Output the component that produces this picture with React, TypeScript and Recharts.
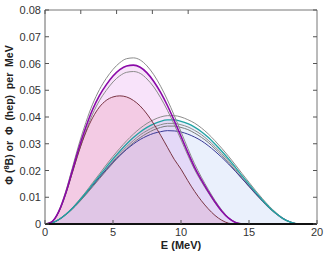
import React from "react";
import { ComposedChart, Line, Area, XAxis, YAxis } from "recharts";

const energies = [0, 0.5, 1, 1.5, 2, 2.5, 3, 3.5, 4, 4.5, 5, 5.5, 6, 6.5, 7, 7.5, 8, 8.5, 9, 9.5, 10, 10.5, 11, 11.5, 12, 12.5, 13, 13.5, 14, 14.5, 15, 15.5, 16, 16.5, 17, 17.5, 18, 18.5, 18.8];

const b8Upper = [0, 0.0009, 0.0048, 0.0118, 0.0208, 0.0299, 0.0379, 0.0448, 0.0502, 0.0544, 0.0578, 0.0603, 0.0618, 0.0621, 0.0613, 0.0591, 0.0558, 0.0515, 0.0464, 0.0406, 0.0345, 0.0283, 0.0225, 0.0175, 0.013, 0.0088, 0.0052, 0.0024, 0.0007, 0];
const b8Central = [0, 0.0008, 0.0045, 0.0112, 0.0198, 0.0285, 0.0362, 0.0428, 0.048, 0.052, 0.0553, 0.0577, 0.0591, 0.0594, 0.0586, 0.0565, 0.0533, 0.0492, 0.0443, 0.0387, 0.0328, 0.0268, 0.0212, 0.0165, 0.0122, 0.0082, 0.0048, 0.0022, 0.0006, 0];
const b8Lower = [0, 0.0008, 0.0043, 0.0107, 0.019, 0.0273, 0.0347, 0.0411, 0.0461, 0.0499, 0.0531, 0.0554, 0.0567, 0.057, 0.0563, 0.0542, 0.0512, 0.0472, 0.0425, 0.0372, 0.0315, 0.0257, 0.0203, 0.0158, 0.0117, 0.0079, 0.0046, 0.0021, 0.0006, 0];
const b8Alt = [0, 0.0008, 0.0044, 0.011, 0.019, 0.0272, 0.0342, 0.0397, 0.0437, 0.0462, 0.0475, 0.0479, 0.0475, 0.0462, 0.0441, 0.0411, 0.0374, 0.0332, 0.0287, 0.0242, 0.0205, 0.0162, 0.0122, 0.0087, 0.0057, 0.0032, 0.0014, 0.0003, 0];

const hepUpper = [0, 0.0004, 0.0017, 0.0036, 0.006, 0.0089, 0.012, 0.0154, 0.0187, 0.0221, 0.0253, 0.0283, 0.0311, 0.0336, 0.0358, 0.0376, 0.039, 0.04, 0.0405, 0.0405, 0.04, 0.039, 0.0377, 0.0359, 0.0337, 0.0311, 0.0283, 0.0253, 0.0221, 0.0188, 0.0156, 0.0124, 0.0094, 0.0066, 0.0042, 0.0022, 0.0009, 0.0001, 0];
const hepTeal = [0, 0.0004, 0.0016, 0.0035, 0.0058, 0.0086, 0.0116, 0.0148, 0.018, 0.0212, 0.0243, 0.0272, 0.0299, 0.0323, 0.0344, 0.0361, 0.0374, 0.0384, 0.0389, 0.0389, 0.0384, 0.0375, 0.0362, 0.0345, 0.0324, 0.0299, 0.0272, 0.0243, 0.0212, 0.018, 0.0149, 0.0118, 0.0089, 0.0062, 0.0039, 0.002, 0.0008, 0.0001, 0];
const hepMid = [0, 0.0004, 0.0015, 0.0034, 0.0056, 0.0083, 0.0112, 0.0143, 0.0174, 0.0205, 0.0235, 0.0263, 0.0289, 0.0312, 0.0333, 0.0349, 0.0362, 0.0371, 0.0376, 0.0376, 0.0371, 0.0363, 0.035, 0.0334, 0.0313, 0.0289, 0.0263, 0.0235, 0.0205, 0.0174, 0.0144, 0.0114, 0.0086, 0.006, 0.0038, 0.0019, 0.0008, 0.0001, 0];
const hepLower = [0, 0.0004, 0.0015, 0.0033, 0.0055, 0.0081, 0.0109, 0.0139, 0.0169, 0.0199, 0.0228, 0.0256, 0.0281, 0.0304, 0.0323, 0.0339, 0.0352, 0.0361, 0.0366, 0.0366, 0.0361, 0.0353, 0.034, 0.0324, 0.0305, 0.0281, 0.0256, 0.0228, 0.0199, 0.0169, 0.014, 0.0111, 0.0084, 0.0058, 0.0037, 0.0019, 0.0008, 0.0001, 0];
const hepBlue = [0, 0.0004, 0.0016, 0.0035, 0.0058, 0.0085, 0.0114, 0.0144, 0.0174, 0.0203, 0.0231, 0.0256, 0.0279, 0.0299, 0.0316, 0.0329, 0.0339, 0.0345, 0.0349, 0.0348, 0.0344, 0.0336, 0.0325, 0.0311, 0.0293, 0.0272, 0.0249, 0.0224, 0.0197, 0.0169, 0.0141, 0.0113, 0.0086, 0.0061, 0.0039, 0.0021, 0.0008, 0.0001, 0];

const xTicks = [0, 5, 10, 15, 20];
const yTicks = [0, 0.01, 0.02, 0.03, 0.04, 0.05, 0.06, 0.07, 0.08];
const xTitle = "E (MeV)";

const rows = energies.map((e, i) => ({
  e,
  b8Upper: b8Upper[i],
  b8Central: b8Central[i],
  b8Lower: b8Lower[i],
  b8Alt: b8Alt[i],
  hepUpper: hepUpper[i],
  hepTeal: hepTeal[i],
  hepMid: hepMid[i],
  hepLower: hepLower[i],
  hepBlue: hepBlue[i],
}));

const FONT = "'Liberation Sans', Arial, Helvetica, sans-serif";
const TICK_COLOR = "#555";

const fmtY = (v: number) => (v === 0 ? "0" : v.toFixed(2));

const BottomTick = (props: any) => {
  const { x, y, payload } = props;
  return (
    <g>
      <line x1={x} x2={x} y1={y} y2={y - 4} stroke={TICK_COLOR} strokeWidth={1} />
      <text x={x} y={y + 12} textAnchor="middle" fontFamily={FONT} fontSize={11} fill="#333">
        {payload.value}
      </text>
    </g>
  );
};

const LeftTick = (props: any) => {
  const { x, y, payload } = props;
  return (
    <g>
      <line x1={x + 4} x2={x + 8} y1={y} y2={y} stroke={TICK_COLOR} strokeWidth={1} />
      <text x={x} y={y + 4} textAnchor="end" fontFamily={FONT} fontSize={11} fill="#333">
        {fmtY(payload.value)}
      </text>
    </g>
  );
};

const TopTick = (props: any) => {
  const { x, y } = props;
  return <line x1={x} x2={x} y1={y} y2={y + 4} stroke={TICK_COLOR} strokeWidth={1} />;
};

const RightTick = (props: any) => {
  const { x, y } = props;
  return <line x1={x} x2={x - 4} y1={y} y2={y} stroke={TICK_COLOR} strokeWidth={1} />;
};

const XTitle = (props: any) => {
  const vb = props.viewBox || {};
  const cx = (vb.x ?? 45) + (vb.width ?? 272) / 2;
  return (
    <text x={cx} y={249} textAnchor="middle" fontFamily={FONT} fontSize={11} fontWeight="bold" fill="#222">
      {xTitle}
    </text>
  );
};

const YTitle = () => {
  return (
    <text
      transform="translate(13,115) rotate(-90)"
      textAnchor="middle"
      fontFamily={FONT}
      fontSize={10.5}
      fontWeight="bold"
      fill="#222"
      style={{ whiteSpace: "pre" }}
    >
      <tspan>Φ (</tspan>
      <tspan dy={-4} fontSize={7.5}>8</tspan>
      <tspan dy={4}>B) or  Φ  (hep)  per  MeV</tspan>
    </text>
  );
};

export default function App() {
  return (
    <div style={{ position: "absolute", left: 0, top: 0 }}>
      <style>{`body{margin:0}`}</style>
      <ComposedChart width={330} height={256} data={rows} margin={{ top: 0, right: 0, bottom: 0, left: 0 }}>
        <XAxis
          dataKey="e"
          type="number"
          domain={[0, 20]}
          ticks={xTicks}
          height={32}
          tickSize={0}
          tickMargin={0}
          tickLine={false}
          axisLine={{ stroke: "#111", strokeWidth: 2 }}
          tick={<BottomTick />}
          label={<XTitle />}
          allowDataOverflow
        />
        <XAxis
          xAxisId="top"
          orientation="top"
          type="number"
          domain={[0, 20]}
          ticks={xTicks}
          height={10}
          tickSize={0}
          tickMargin={0}
          tickLine={false}
          axisLine={{ stroke: "#777", strokeWidth: 1 }}
          tick={<TopTick />}
          allowDataOverflow
        />
        <YAxis
          type="number"
          domain={[0, 0.08]}
          ticks={yTicks}
          width={45}
          tickSize={0}
          tickMargin={4}
          tickLine={false}
          axisLine={{ stroke: "#666", strokeWidth: 1 }}
          tick={<LeftTick />}
          label={<YTitle />}
          allowDataOverflow
        />
        <YAxis
          yAxisId="right"
          orientation="right"
          type="number"
          domain={[0, 0.08]}
          ticks={yTicks}
          width={13}
          tickSize={0}
          tickMargin={0}
          tickLine={false}
          axisLine={{ stroke: "#777", strokeWidth: 1 }}
          tick={<RightTick />}
          allowDataOverflow
        />

        <Area dataKey="b8Central" type="monotone" stroke="none" fill="#f8e3fa" fillOpacity={1} isAnimationActive={false} dot={false} activeDot={false} />
        <Area dataKey="b8Alt" type="monotone" stroke="none" fill="#f3cbe4" fillOpacity={1} isAnimationActive={false} dot={false} activeDot={false} />
        <Area dataKey="hepTeal" type="monotone" stroke="none" fill="rgb(150,180,240)" fillOpacity={0.2} isAnimationActive={false} dot={false} activeDot={false} />

        <Line dataKey="hepUpper" type="monotone" stroke="#8c8c8c" strokeWidth={1} dot={false} activeDot={false} isAnimationActive={false} />
        <Line dataKey="hepMid" type="monotone" stroke="#8c8c8c" strokeWidth={1} dot={false} activeDot={false} isAnimationActive={false} />
        <Line dataKey="hepLower" type="monotone" stroke="#7a7a7a" strokeWidth={1} dot={false} activeDot={false} isAnimationActive={false} />
        <Line dataKey="hepBlue" type="monotone" stroke="#3a3a96" strokeWidth={1} dot={false} activeDot={false} isAnimationActive={false} />
        <Line dataKey="hepTeal" type="monotone" stroke="#21a3a3" strokeWidth={1.3} dot={false} activeDot={false} isAnimationActive={false} />

        <Line dataKey="b8Upper" type="monotone" stroke="#8c8c8c" strokeWidth={1} dot={false} activeDot={false} isAnimationActive={false} />
        <Line dataKey="b8Lower" type="monotone" stroke="#8c8c8c" strokeWidth={1} dot={false} activeDot={false} isAnimationActive={false} />
        <Line dataKey="b8Alt" type="monotone" stroke="#7a3444" strokeWidth={1} dot={false} activeDot={false} isAnimationActive={false} />
        <Line dataKey="b8Central" type="monotone" stroke="#8a0aa8" strokeWidth={1.6} dot={false} activeDot={false} isAnimationActive={false} />
      </ComposedChart>
    </div>
  );
}
